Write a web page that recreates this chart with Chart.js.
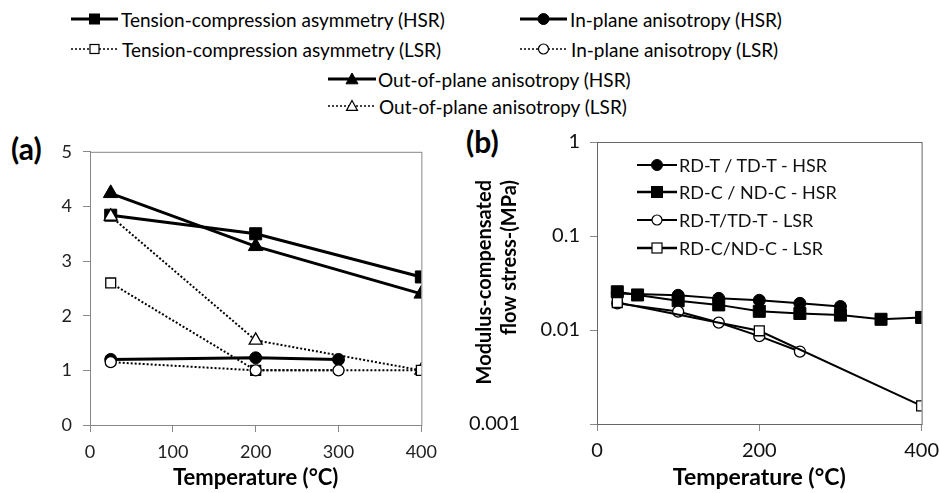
<!DOCTYPE html>
<html>
<head>
<meta charset="utf-8">
<script src="https://cdn.jsdelivr.net/npm/chart.js@4/dist/chart.umd.min.js"></script>
<style>
  body { margin: 0; background: #fff; width: 939px; height: 493px; overflow: hidden; position: relative; font-family: Lato, "Open Sans", sans-serif; color: #000; }
  .box { position: absolute; }
  .leg { position: absolute; display: flex; align-items: center; height: 22px; white-space: nowrap; }
  .leg svg { flex: none; }
  .top-leg { font-size: 19px; }
  .in-leg { font-size: 18px; color: #111; }
  .panel-tag { position: absolute; font-weight: bold; font-size: 30px; }
</style>
</head>
<body>
<div class="panel-tag" style="left:11px; top:130px;">(a)</div>
<div class="panel-tag" style="left:466px; top:123px;">(b)</div>
<div class="box" style="left:0; top:130px; width:446px; height:363px;"><canvas id="chartA"></canvas></div>
<div class="box" style="left:460px; top:120px; width:487px; height:373px;"><canvas id="chartB"></canvas></div>
<div id="legends"></div>
<script>
// ---- panel (a): anisotropy ratios ----
const tempTC = [25, 200, 400];
const tcHSR = [3.84, 3.5, 2.71];
const tcLSR = [2.6, 1.0, 1.0];
const tempIP = [25, 200, 300];
const ipHSR = [1.2, 1.23, 1.2];
const ipLSR = [1.15, 1.0, 1.0];
const tempOP = [25, 200, 400];
const opHSR = [4.24, 3.27, 2.4];
const opLSR = [3.82, 1.55, 1.0];
const xTicksA = [0, 100, 200, 300, 400];
const yTicksA = [0, 1, 2, 3, 4, 5];

// ---- panel (b): modulus-compensated flow stress ----
const tempRdtHSR = [25, 100, 150, 200, 250, 300];
const rdtHSR = [0.0245, 0.0234, 0.0217, 0.0207, 0.0192, 0.0178];
const tempRdcHSR = [25, 50, 100, 150, 200, 250, 300, 350, 400];
const rdcHSR = [0.0255, 0.0236, 0.0205, 0.0185, 0.0158, 0.015, 0.0144, 0.013, 0.0136];
const tempRdtLSR = [25, 100, 150, 200, 250];
const rdtLSR = [0.0192, 0.0157, 0.012, 0.0086, 0.0059];
const tempRdcLSR = [25, 200, 400];
const rdcLSR = [0.0196, 0.0098, 0.00156];
const xTicksB = [0, 200, 400];
const yTicksB = [0.001, 0.01, 0.1, 1];

const FONT = "Lato, 'Open Sans', sans-serif";
const pts = (xs, ys) => xs.map((x, i) => ({ x, y: ys[i] }));

// draws the frame around the plot area
const frame = {
  id: "frame",
  afterDraw(chart, args, opts) {
    const { ctx, chartArea: a } = chart;
    ctx.save();
    ctx.strokeStyle = opts.color || "#888";
    ctx.lineWidth = 1;
    ctx.strokeRect(a.left + 0.5, a.top + 0.5, a.right - a.left, a.bottom - a.top);
    ctx.restore();
  },
};

function series(label, xs, ys, style, filled, dotted, lw) {
  const m = {
    square: { pointStyle: "rect", r: filled ? 8.5 : 7 },
    circle: { pointStyle: "circle", r: filled ? 6 : 5.5 },
    triangle: { pointStyle: "triangle", r: filled ? 8.5 : 7.5 },
  }[style];
  return {
    label,
    data: pts(xs, ys),
    showLine: true,
    borderColor: "#000",
    borderWidth: lw,
    borderDash: dotted ? [2, 2] : [],
    pointStyle: m.pointStyle,
    pointRadius: m.r,
    pointBackgroundColor: filled ? "#000" : "#fff",
    pointBorderColor: "#000",
    pointBorderWidth: filled ? 1 : 1.3,
    tension: 0,
  };
}

function axis(extra) {
  return Object.assign(
    {
      border: { color: "#888" },
      grid: { drawOnChartArea: false, color: "#888", tickLength: 7 },
      ticks: { color: "#222", font: { family: FONT, size: 18 }, padding: 9 },
    },
    extra
  );
}

const titleFont = { family: FONT, size: 22, weight: "bold" };

new Chart(document.getElementById("chartA"), {
  type: "scatter",
  data: {
    datasets: [
      series("In-plane anisotropy (LSR)", tempIP, ipLSR, "circle", false, true, 2),
      series("Tension-compression asymmetry (LSR)", tempTC, tcLSR, "square", false, true, 2),
      series("Out-of-plane anisotropy (LSR)", tempOP, opLSR, "triangle", false, true, 2),
      series("In-plane anisotropy (HSR)", tempIP, ipHSR, "circle", true, false, 3),
      series("Out-of-plane anisotropy (HSR)", tempOP, opHSR, "triangle", true, false, 3),
      series("Tension-compression asymmetry (HSR)", tempTC, tcHSR, "square", true, false, 3),
    ],
  },
  options: {
    responsive: true,
    maintainAspectRatio: false,
    animation: false,
    layout: { padding: { left: 40, right: 0, top: 21, bottom: 0 } },
    plugins: { legend: { display: false }, tooltip: { enabled: false }, frame: { color: "#888" } },
    scales: {
      x: axis({
        type: "linear",
        min: 0,
        max: 400,
        afterBuildTicks: (s) => { s.ticks = xTicksA.map((v) => ({ value: v })); },
        afterFit: (s) => { s.height = 68; },
        title: { display: true, text: "Temperature (°C)", color: "#000", font: titleFont, padding: { top: 0, bottom: 2 } },
      }),
      y: axis({
        min: 0,
        max: 5,
        ticks: { color: "#222", font: { family: FONT, size: 18 }, padding: 11 },
        afterBuildTicks: (s) => { s.ticks = yTicksA.map((v) => ({ value: v })); },
        afterFit: (s) => { s.width = 50; },
      }),
    },
  },
  plugins: [frame],
});

// y-axis title of (b), two lines ending near the top
const yTitleB = {
  id: "yTitleB",
  afterDraw(chart) {
    const ctx = chart.ctx;
    ctx.save();
    ctx.fillStyle = "#000";
    ctx.font = `bold 20px ${FONT}`;
    ctx.textAlign = "right";
    ctx.textBaseline = "middle";
    [["Modulus-compensated", 25], ["flow stress-(MPa)", 50]].forEach(([t, x]) => {
      ctx.save();
      ctx.translate(x, 60);
      ctx.rotate(-Math.PI / 2);
      ctx.fillText(t, 0, 0);
      ctx.restore();
    });
    ctx.restore();
  },
};

new Chart(document.getElementById("chartB"), {
  type: "scatter",
  data: {
    datasets: [
      series("RD-C/ND-C - LSR", tempRdcLSR, rdcLSR, "square", false, false, 2),
      series("RD-T/TD-T - LSR", tempRdtLSR, rdtLSR, "circle", false, false, 2),
      series("RD-C / ND-C - HSR", tempRdcHSR, rdcHSR, "square", true, false, 2),
      series("RD-T / TD-T - HSR", tempRdtHSR, rdtHSR, "circle", true, false, 2),
    ],
  },
  options: {
    responsive: true,
    maintainAspectRatio: false,
    animation: false,
    layout: { padding: { left: 0, right: 0, top: 22, bottom: 0 } },
    plugins: { legend: { display: false }, tooltip: { enabled: false }, frame: { color: "#666" } },
    scales: {
      x: axis({
        type: "linear",
        min: 0,
        max: 400,
        border: { color: "#666" },
        ticks: { color: "#111", font: { family: FONT, size: 20 }, padding: 8 },
        afterBuildTicks: (s) => { s.ticks = xTicksB.map((v) => ({ value: v })); },
        afterFit: (s) => { s.height = 69; },
        title: { display: true, text: "Temperature (°C)", color: "#000", font: { family: FONT, size: 23, weight: "bold" }, padding: { top: 0, bottom: 2 } },
      }),
      y: axis({
        type: "logarithmic",
        min: 0.001,
        max: 1,
        border: { color: "#666" },
        ticks: {
          color: "#111",
          font: { family: FONT, size: 20 },
          padding: 10,
          // the bottom label sits further left in the original figure
          callback: (v) => (v === 0.001 ? String(v) + "\u2003".repeat(4) : String(v)),
        },
        afterBuildTicks: (s) => { s.ticks = yTicksB.map((v) => ({ value: v })); },
        afterFit: (s) => { s.width = 137; },
      }),
    },
  },
  plugins: [frame, yTitleB],
});

// ---- legends (HTML, sample line + marker) ----
function marker(style, filled, cx, cy, s) {
  const fill = filled ? "#000" : "#fff";
  const sw = filled ? 1 : 1.2;
  if (style === "square") {
    const h = s / 2;
    return `<rect x="${cx - h}" y="${cy - h}" width="${s}" height="${s}" fill="${fill}" stroke="#000" stroke-width="${sw}"/>`;
  }
  if (style === "circle") {
    return `<circle cx="${cx}" cy="${cy}" r="${s / 2}" fill="${fill}" stroke="#000" stroke-width="${sw}"/>`;
  }
  const h = s / 2;
  return `<polygon points="${cx},${cy - h} ${cx + h},${cy + h * 0.8} ${cx - h},${cy + h * 0.8}" fill="${fill}" stroke="#000" stroke-width="${sw}"/>`;
}

function legendItem(e) {
  const w = e.w;
  const cy = 11;
  const dash = e.dotted ? ` stroke-dasharray="2,2"` : "";
  const svg = `<svg width="${w}" height="22"><line x1="0" y1="${cy}" x2="${w}" y2="${cy}" stroke="#000" stroke-width="${e.lw}"${dash}/>${marker(e.style, e.filled, w / 2, cy, e.size)}</svg>`;
  return `<div class="leg ${e.cls}" style="left:${e.x}px; top:${e.y - 11}px;">${svg}<span style="margin-left:${e.gap}px">${e.text}</span></div>`;
}

const legendEntries = [
  { x: 71, y: 19, w: 47, gap: 3, lw: 3, style: "square", filled: true, size: 10, text: "Tension-compression asymmetry (HSR)", cls: "top-leg" },
  { x: 71, y: 49, w: 47, gap: 4, lw: 1.5, dotted: true, style: "square", filled: false, size: 9, text: "Tension-compression asymmetry (LSR)", cls: "top-leg" },
  { x: 520, y: 19, w: 47, gap: 3, lw: 3, style: "circle", filled: true, size: 11, text: "In-plane anisotropy (HSR)", cls: "top-leg" },
  { x: 520, y: 49, w: 47, gap: 4, lw: 1.5, dotted: true, style: "circle", filled: false, size: 10, text: "In-plane anisotropy (LSR)", cls: "top-leg" },
  { x: 328, y: 79, w: 48, gap: 2, lw: 3, style: "triangle", filled: true, size: 12, text: "Out-of-plane anisotropy (HSR)", cls: "top-leg" },
  { x: 328, y: 106, w: 48, gap: 3, lw: 1.5, dotted: true, style: "triangle", filled: false, size: 11, text: "Out-of-plane anisotropy (LSR)", cls: "top-leg" },
  { x: 637, y: 165, w: 40, gap: 2, lw: 2, style: "circle", filled: true, size: 11, text: "RD-T / TD-T - HSR", cls: "in-leg" },
  { x: 637, y: 192, w: 40, gap: 2, lw: 2.5, style: "square", filled: true, size: 11, text: "RD-C / ND-C - HSR", cls: "in-leg" },
  { x: 637, y: 220, w: 40, gap: 2, lw: 2, style: "circle", filled: false, size: 10, text: "RD-T/TD-T - LSR", cls: "in-leg" },
  { x: 637, y: 248, w: 40, gap: 2, lw: 2.5, style: "square", filled: false, size: 10, text: "RD-C/ND-C - LSR", cls: "in-leg" },
];
document.getElementById("legends").innerHTML = legendEntries.map(legendItem).join("");
</script>
</body>
</html>
